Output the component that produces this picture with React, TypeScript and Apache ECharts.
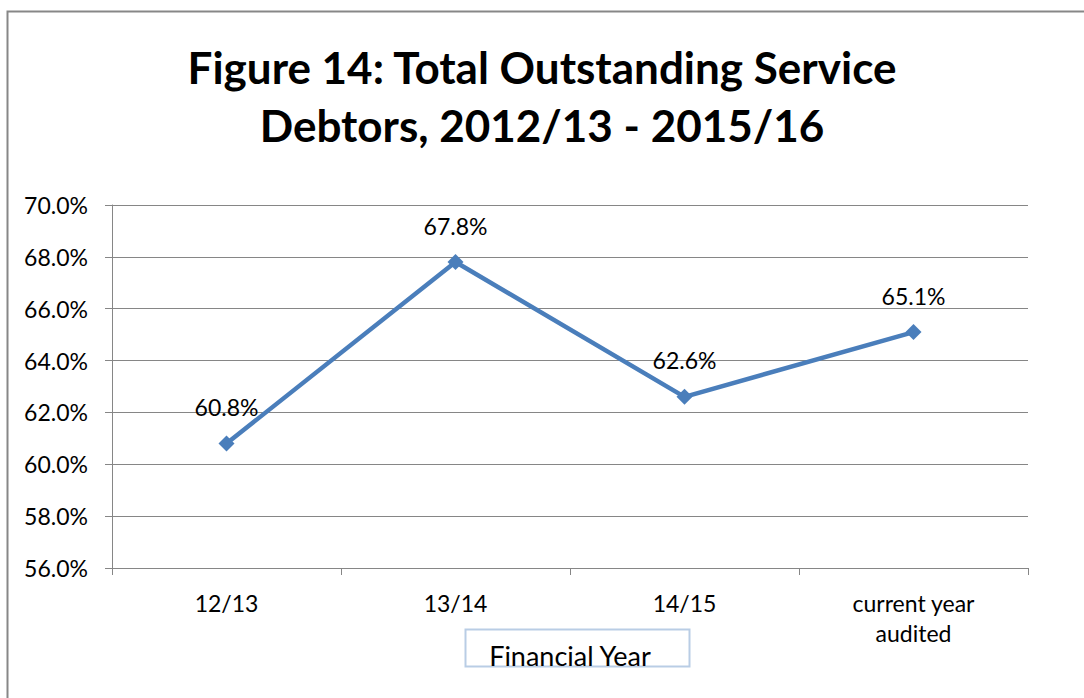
import React, { useEffect, useRef } from "react";
import * as echarts from "echarts";

const categories = ["12/13", "13/14", "14/15", "current year\naudited"];
const values = [60.8, 67.8, 62.6, 65.1];
const titleLines = ["Figure 14: Total Outstanding Service", "Debtors, 2012/13 - 2015/16"];
const xAxisName = "Financial Year";

export default function App() {
  const ref = useRef<HTMLDivElement>(null);
  useEffect(() => {
    if (!ref.current) return;
    const chart = echarts.init(ref.current, null, { renderer: "svg" });
    const font = "Lato, 'Open Sans', sans-serif";
    chart.setOption({
      animation: false,
      backgroundColor: "#ffffff",
      textStyle: { fontFamily: font },
      title: {
        text: titleLines.join("\n"),
        left: "center",
        top: 33,
        textStyle: { fontSize: 44, fontWeight: "bold", color: "#000", lineHeight: 58, fontFamily: font },
      },
      grid: { left: 112, right: 56, top: 205, bottom: 130 },
      xAxis: {
        type: "category",
        data: categories,
        boundaryGap: true,
        name: xAxisName,
        nameLocation: "middle",
        nameGap: 74,
        nameMoveOverlap: false,
        nameTextStyle: { fontSize: 27, color: "#000", fontFamily: font },
        axisLine: { lineStyle: { color: "#868686", width: 1 } },
        axisTick: { show: true, length: 7, inside: false, alignWithLabel: false, lineStyle: { color: "#868686" } },
        axisLabel: { fontSize: 23, color: "#000", margin: 20, lineHeight: 30, interval: 0 },
        splitLine: { show: false },
      },
      yAxis: {
        type: "value",
        min: 56,
        max: 70,
        interval: 2,
        axisLine: { show: true, lineStyle: { color: "#868686", width: 1 } },
        axisTick: { show: true, length: 7, lineStyle: { color: "#868686" } },
        axisLabel: { fontSize: 23, color: "#000", margin: 24, formatter: (v: number) => v.toFixed(1) + "%" },
        splitLine: { show: true, lineStyle: { color: "#868686", width: 1 } },
      },
      series: [
        {
          type: "line",
          data: values,
          symbol: "diamond",
          symbolSize: 16,
          lineStyle: { color: "#4a7ebb", width: 4.5 },
          itemStyle: { color: "#4a7ebb" },
          label: {
            show: true,
            position: "top",
            distance: 17,
            fontSize: 23,
            color: "#000",
            formatter: (p: any) => p.value.toFixed(1) + "%",
          },
        },
      ],
      graphic: [
        {
          type: "rect",
          shape: { x: 7.5, y: 11.5, width: 1200, height: 1000 },
          style: { fill: "none", stroke: "#878787", lineWidth: 2 },
          silent: true,
          z: -1,
        },
        {
          type: "rect",
          shape: { x: 465.5, y: 629.5, width: 224, height: 37 },
          style: { fill: "none", stroke: "#b9cde5", lineWidth: 2 },
          silent: true,
        },
      ],
    });
    return () => chart.dispose();
  }, []);
  return <div ref={ref} style={{ position: "fixed", left: 0, top: 0, width: 1084, height: 698 }} />;
}
